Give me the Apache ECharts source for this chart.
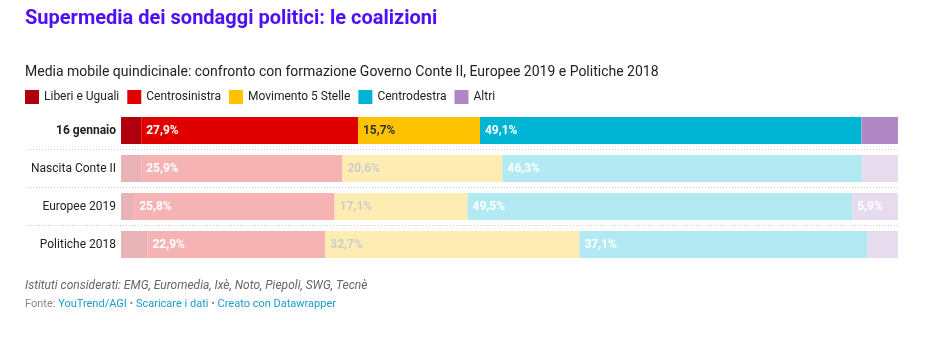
<!DOCTYPE html>
<html>
<head>
<meta charset="utf-8">
<script src="https://cdn.jsdelivr.net/npm/echarts@6/dist/echarts.min.js"></script>
<style>
html,body{margin:0;padding:0;background:#fff;}
#chart{width:940px;height:341px;}
</style>
</head>
<body>
<div id="chart"></div>
<script>
const categories = ['16 gennaio', 'Nascita Conte II', 'Europee 2019', 'Politiche 2018'];
const seriesNames = ['Liberi e Uguali', 'Centrosinistra', 'Movimento 5 Stelle', 'Centrodestra', 'Altri'];
const liberiUguali = [2.6, 2.6, 1.7, 3.4];
const centrosinistra = [27.9, 25.9, 25.8, 22.9];
const movimento5Stelle = [15.7, 20.6, 17.1, 32.7];
const centrodestra = [49.1, 46.3, 49.5, 37.1];
const altri = [4.7, 4.6, 5.9, 3.9];

const seriesValues = [liberiUguali, centrosinistra, movimento5Stelle, centrodestra, altri];
const colors = ['#b1000d', '#e10000', '#fdc200', '#00b4d4', '#b088c5'];

const FONT = 'Roboto';

function fmt(v) { return v.toFixed(1).replace('.', ',') + '%'; }
function fade(hex, a) {
  const n = parseInt(hex.slice(1), 16);
  const ch = [(n >> 16) & 255, (n >> 8) & 255, n & 255].map(c => Math.round(255 - a * (255 - c)));
  return 'rgb(' + ch.join(',') + ')';
}

const series = seriesNames.map((name, si) => ({
  name: name,
  type: 'bar',
  stack: 'total',
  barWidth: 27,
  xAxisIndex: 0,
  yAxisIndex: 0,
  itemStyle: { color: colors[si] },
  emphasis: { disabled: true },
  data: seriesValues[si].map((v, ri) => {
    const faded = ri > 0;
    let lc = '#ffffff';
    if (si === 2) lc = faded ? '#cccccc' : '#333333';
    return {
      value: v,
      itemStyle: { color: faded ? fade(colors[si], 0.3) : colors[si] },
      label: {
        show: v >= 5,
        position: 'insideLeft',
        distance: 5,
        color: lc,
        fontFamily: FONT,
        fontSize: 12,
        fontWeight: 'bold',
        formatter: (p) => fmt(p.value)
      }
    };
  })
}));

const chart = echarts.init(document.getElementById('chart'), null, { renderer: 'canvas' });
chart.setOption({
  animation: false,
  textStyle: { fontFamily: FONT },
  title: [
    {
      text: 'Supermedia dei sondaggi politici: le coalizioni',
      left: 25, top: 9, padding: 0,
      textStyle: { fontFamily: FONT, fontSize: 20, fontWeight: 'bold', color: '#4f10f5' }
    },
    {
      text: 'Media mobile quindicinale: confronto con formazione Governo Conte II, Europee 2019 e Politiche 2018',
      left: 25, top: 65, padding: 0,
      textStyle: { fontFamily: FONT, fontSize: 14, fontWeight: 'normal', color: '#222222' }
    },
    {
      text: 'Istituti considerati: EMG, Euromedia, Ixè, Noto, Piepoli, SWG, Tecnè',
      left: 25, top: 280, padding: 0,
      textStyle: { fontFamily: FONT, fontSize: 12, fontStyle: 'italic', fontWeight: 'normal', color: '#666666' }
    },
    {
      text: '{g|Fonte: }{b|YouTrend/AGI}{g| • }{b|Scaricare i dati}{g| • }{b|Creato con Datawrapper}',
      left: 25, top: 299, padding: 0,
      textStyle: {
        fontFamily: FONT, fontSize: 11, fontWeight: 'normal',
        rich: {
          g: { fontFamily: FONT, fontSize: 11, color: '#888888' },
          b: { fontFamily: FONT, fontSize: 11, color: '#1a9dcc' }
        }
      }
    }
  ],
  legend: {
    left: 25, top: 90, padding: 0,
    icon: 'rect',
    itemWidth: 14, itemHeight: 14,
    itemGap: 8,
    selectedMode: false,
    textStyle: { fontFamily: FONT, fontSize: 12, color: '#222222' },
    data: seriesNames
  },
  grid: [
    { left: 121, right: 42, top: 111.5, height: 152, containLabel: false },
    { left: 27, right: 42, top: 111.5, height: 152, containLabel: false }
  ],
  xAxis: [
    { gridIndex: 0, type: 'value', min: 0, max: 100, show: false },
    { gridIndex: 1, type: 'value', min: 0, max: 1, show: false }
  ],
  yAxis: [
    {
      gridIndex: 0, type: 'category', inverse: true, data: categories,
      axisLine: { show: false }, axisTick: { show: false }, splitLine: { show: false },
      axisLabel: {
        margin: 5, fontFamily: FONT, fontSize: 12, color: '#222222',
        formatter: (v) => v === categories[0] ? '{b|' + v + '}' : v,
        rich: { b: { fontFamily: FONT, fontSize: 12, fontWeight: 'bold', color: '#222222' } }
      }
    },
    {
      gridIndex: 1, type: 'category', inverse: true, data: categories,
      axisLine: { show: false }, axisTick: { show: false }, axisLabel: { show: false },
      splitLine: { show: true, showMinLine: false, showMaxLine: false,
        lineStyle: { type: [1, 2], color: '#cccccc', width: 1 } }
    }
  ],
  series: series
});
</script>
</body>
</html>
